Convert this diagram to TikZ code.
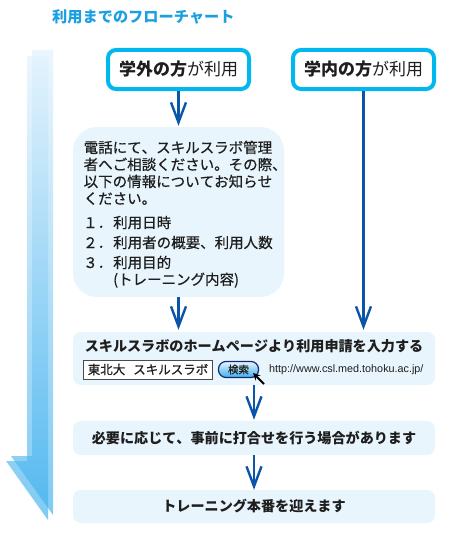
\documentclass[tikz,border=0pt]{standalone}
\usepackage{fontspec}
\usepackage{xcolor}
\setmainfont[Kerning=Off]{Noto Sans CJK JP}
\newfontfamily\midfont[Kerning=Off, FakeBold=0.6]{Noto Sans CJK JP}
\newfontfamily\urlfont{Liberation Sans}
\usetikzlibrary{arrows.meta, positioning, calc}
\definecolor{cTitle}{RGB}{26,160,226}
\definecolor{cFrame}{RGB}{0,184,238}
\definecolor{cPale}{RGB}{232,245,253}
\definecolor{cFlow}{RGB}{11,85,168}
\definecolor{cInk}{RGB}{30,30,30}
\definecolor{cBigTop}{RGB}{225,242,253}
\definecolor{cBigBot}{RGB}{60,175,238}
\definecolor{cNavy}{RGB}{20,40,120}
\tikzset{
	whobox/.style={rectangle, rounded corners=8pt, draw=cFrame, line width=4pt, fill=white, minimum width=141pt, minimum height=39pt, text centered, inner sep=0pt, text=cInk, font=\fontsize{17}{20}\selectfont},
	palebox/.style={rectangle, fill=cPale, minimum width=362pt, text centered, inner sep=0pt, text=cInk, font=\fontsize{14.1}{17}\selectfont\bfseries},
	flowarrow/.style={-{Straight Barb[length=20pt, width=15pt]}, line width=2.4pt, color=cFlow},
	% pieces of the long arrow on the left
	bigarrow/.style={top color=cBigTop, bottom color=cBigBot, draw=none, fill opacity=0.65},
	listitem/.style={anchor=base west, inner sep=0pt, text=cInk, font=\midfont\fontsize{14.5}{17}\selectfont},
}
\begin{document}
\begin{tikzpicture}[x=1pt, y=-1pt]
	\useasboundingbox (0,0) rectangle (465,535);
	\fill[white] (0,0) rectangle (465,535);

	\node[anchor=west, inner sep=0pt, text=cTitle, font=\fontsize{15.2}{17}\selectfont\bfseries] (title) at (52,17) {利用までのフローチャート};

	\shade[bigarrow] (32,50) -- (53,50) -- (53,515) -- (11,456) -- (32,456) -- cycle;
	\shade[bigarrow] (27,56) -- (48,56) -- (48,520) -- (6,461) -- (27,461) -- cycle;

	\node[whobox] (gakugai) at (178.5,69.5) {\textbf{学外の方}が利用};
	\node[whobox] (gakunai) at (363.5,69.5) {\textbf{学内の方}が利用};

	\node[rectangle, rounded corners=24pt, fill=cPale, minimum width=211pt, minimum height=170pt, inner sep=0pt] (soudan) at (178.5,212) {};
	\node[anchor=north west, inner sep=0pt, align=left, text=cInk, font=\midfont\fontsize{14.5}{17}\selectfont] (soudantext) at (83.5,140.5) {電話にて、スキルスラボ管理\\者へご相談ください。その際、\\以下の情報についてお知らせ\\ください。};
	\foreach \num/\item/\ypos in {１/利用日時/228, ２/利用者の概要、利用人数/248, ３/利用目的/268} {
		\node[listitem] (num\ypos) at (83,\ypos) {\num．};
		\node[listitem] (item\ypos) at (113,\ypos) {\item};
	}
	\node[listitem, below=3pt of item268.south west, anchor=north west] (itemcont) {(トレーニング内容)};

	\node[palebox, rounded corners=8pt, minimum height=53pt] (apply) at (254,358.5) {};
	\node[inner sep=0pt, text=cInk, font=\fontsize{14.1}{17}\selectfont\bfseries] (applytext) at (254,346) {スキルスラボのホームページより利用申請を入力する};
	\node[rectangle, draw=cInk!80, line width=1pt, fill=white, minimum width=129pt, minimum height=19pt, inner sep=0pt, text=cInk, font=\midfont\fontsize{12.5}{15}\selectfont] (searchbox) at (148,369.5) {東北大\hspace{8pt}スキルスラボ};
	\node[rectangle, rounded corners=7.5pt, draw=cNavy, line width=1.2pt, top color=cPale, bottom color=cBigBot, minimum width=40pt, minimum height=16pt, inner sep=0pt, text=cInk, font=\midfont\fontsize{10.5}{12}\selectfont] (button) at (238.5,369.5) {検索};
	\node[anchor=west, inner sep=0pt, text=cInk, font=\urlfont\fontsize{10.8}{12}\selectfont] (url) at (269,369.5) {http://www.csl.med.tohoku.ac.jp/};
	\coordinate (cursortail) at (264,384);
	\coordinate (cursortip) at (253,373);
	\draw[-{Stealth[length=7pt, width=7pt]}, line width=1.8pt, color=black] (cursortail) -- (cursortip);

	\node[palebox, rounded corners=8pt, minimum height=34pt] (prior) at (254,438) {必要に応じて、事前に打合せを行う場合があります};
	\node[palebox, rounded corners=8pt, minimum height=33pt] (final) at (254,506.5) {トレーニング本番を迎えます};

	\draw[flowarrow] (gakugai.south) -- ($(soudan.north)+(0,-1)$);
	\draw[flowarrow] (gakunai.south) -- ($(gakunai.south |- apply.north)+(0,-2)$);
	\draw[flowarrow] (soudan.south) -- ($(soudan.south |- apply.north)+(0,-2)$);
	\draw[flowarrow] (apply.south) -- ($(prior.north)+(0,-1)$);
	\draw[flowarrow] (prior.south) -- (final.north);
\end{tikzpicture}
\end{document}
